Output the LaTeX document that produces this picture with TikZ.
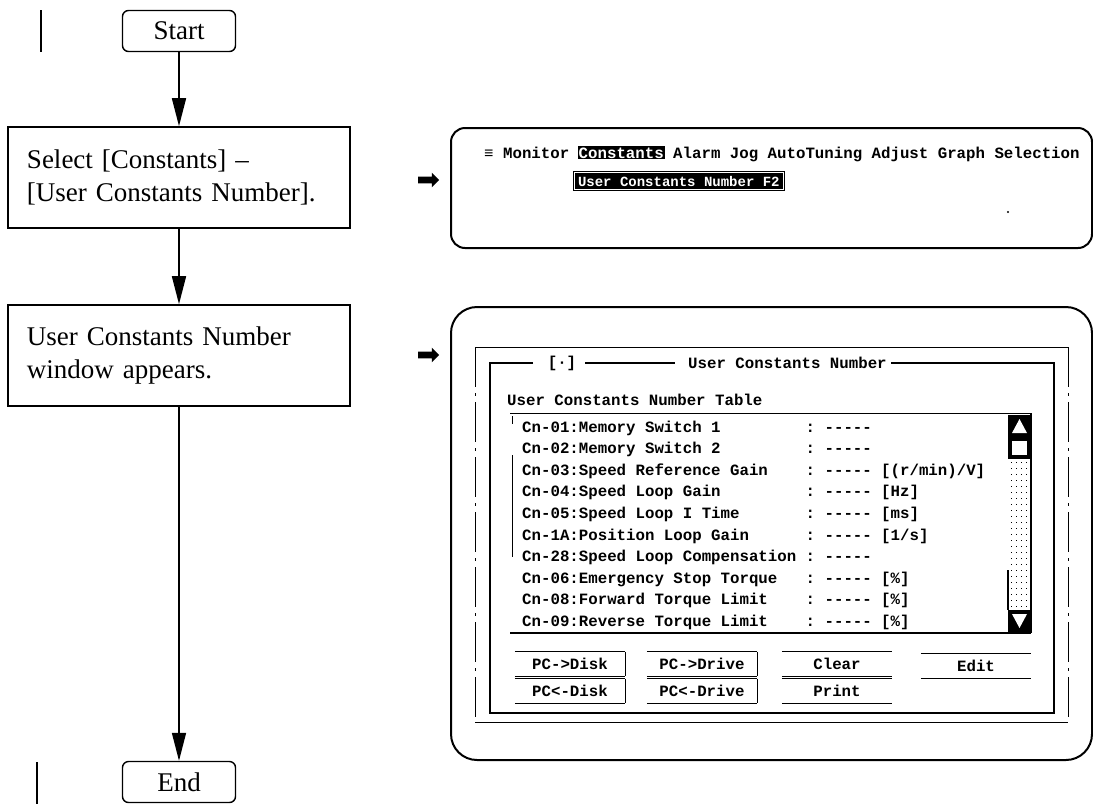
\documentclass[tikz,border=0pt]{standalone}
\usepackage{fontspec}
\setmainfont{Liberation Serif}
\setmonofont{Liberation Mono}
\usetikzlibrary{arrows.meta,shapes.arrows}

\newcommand\hilite[1]{{\setlength\fboxsep{1pt}\kern-1pt\colorbox{black}{\textcolor{white}{#1}}\kern-1pt}}

\begin{document}
\begin{tikzpicture}[x=1pt, y=-1pt,
    font=\fontsize{27}{33}\selectfont,
    term/.style={draw, line width=1.4pt, rounded corners=6pt,
                 minimum width=113pt, minimum height=41pt, inner sep=0pt},
    stepbox/.style={draw, line width=1.6pt, minimum width=342pt,
                 minimum height=101pt, inner sep=0pt, text width=304pt, align=left},
    flow/.style={line width=1.6pt, -{Triangle[length=28pt,width=14pt]}},
    pointer/.style={single arrow, fill=black, minimum height=21pt, inner xsep=0pt,
                 inner ysep=3.2pt, single arrow head extend=4pt},
    screen/.style={line width=2pt},
    mono/.style={font=\fontsize{15.75}{18}\selectfont\ttfamily\bfseries, inner sep=0pt},
    row/.style={mono, anchor=base west},
    btn/.style={mono, minimum width=110pt, minimum height=24pt},
    rule/.style={line width=1pt},
    sidedash/.style={rule, dash pattern=on 40pt off 6pt on 3pt off 6pt},
]
\useasboundingbox (0,0) rectangle (1093,804);

% ---- flow chart ----
\draw[line width=1.2pt] (41,10) -- (41,52);
\draw[line width=1.2pt] (37,762) -- (37,804);
\node[term] (start) at (179,31) {Start};
\node[stepbox] (select) at (179,177.5) {Select [Constants] --\\{}[User Constants Number].};
\node[stepbox] (window) at (179,355.5) {User Constants Number\\window appears.};
\node[term] (end) at (179,782) {End};
\draw[flow] (start) -- (select);
\draw[flow] (select) -- (window);
\draw[flow] (window) -- (end);

\node[pointer] (ptrA) at (427,180) {};
\node[pointer] (ptrB) at (427,355) {};

% ---- screen 1: menu bar ----
\draw[screen, rounded corners=14pt] (451,128) rectangle (1092,248);
\node[row] (menu) at (484,158)
    {≡ Monitor \hilite{Constants} Alarm Jog AutoTuning Adjust Graph Selection};
\node[draw, line width=1pt, inner sep=1.5pt, anchor=west] (popup) at (573,181)
    {\fontsize{14}{16}\selectfont\ttfamily\bfseries\setlength\fboxsep{3pt}%
     \colorbox{black}{\textcolor{white}{User Constants Number F2}}};
\fill (1008,212) circle (1.2pt);

% ---- screen 2: user constants window ----
\draw[screen, rounded corners=26pt] (451,307) rectangle (1092,760);
\draw[rule] (475,347) -- (1068,347);
\draw[rule] (475,722) -- (1068,722);
\draw[sidedash] (475,347) -- (475,722);
\draw[sidedash] (1068,347) -- (1068,722);

\draw[line width=2pt] (533,363) -| (490,713) -| (1054,363) -- (891,363);
\draw[line width=2pt] (585,363) -- (675,363);
\node[mono] (dlgicon) at (562,363) {[·]};
\node[mono, anchor=west] (dlgtitle) at (688,363) {User Constants Number};
\node[row] (tbltitle) at (507,405) {User Constants Number Table};

% table
\draw[rule] (510,413) -- (1031,413);
\draw[line width=1.8pt] (510,633) -- (1031,633);
\draw[rule] (512,416) -- (512,424);
\draw[rule] (512,455) -- (512,557);
\foreach \lbl/\unit [count=\i from 0] in {
    {Cn-01:Memory Switch 1}/{},
    {Cn-02:Memory Switch 2}/{},
    {Cn-03:Speed Reference Gain}/{[(r/min)/V]},
    {Cn-04:Speed Loop Gain}/{[Hz]},
    {Cn-05:Speed Loop I Time}/{[ms]},
    {Cn-1A:Position Loop Gain}/{[1/s]},
    {Cn-28:Speed Loop Compensation}/{},
    {Cn-06:Emergency Stop Torque}/{[\%]},
    {Cn-08:Forward Torque Limit}/{[\%]},
    {Cn-09:Reverse Torque Limit}/{[\%]}} {
    \node[row] (lbl\i) at (522,{432+21.6*\i}) {\lbl};
    \node[row] (val\i) at (805.5,{432+21.6*\i}) {: -----};
    \node[row] (unit\i) at (881,{432+21.6*\i}) {\unit};
}

% scroll bar
\fill (1008,415) rectangle (1031,437);
\fill[white] (1012,433) -- (1027,433) -- (1019.5,419) -- cycle;
\fill (1008,437) rectangle (1031,459);
\fill[white] (1012,441) rectangle (1027,455);
\foreach \r in {0,...,24} {
    \foreach \c in {0,...,3} { \fill ({1011+5*\c},{462+6*\r}) rectangle +(1.3,1.3); }
}
\draw[line width=1.5pt] (1031,413) -- (1031,633);
\draw[line width=1.5pt] (1008,570) -- (1008,610);
\fill (1008,610) rectangle (1031,632);
\fill[white] (1012,614) -- (1027,614) -- (1019.5,628) -- cycle;

% buttons
\foreach \nm/\cx/\cy/\txt/\side in {pcdisk/570/664/PC->Disk/1, pcdrive/702/664/PC->Drive/1,
        clear/837/664/Clear/0, edit/976/666/Edit/0, pcudisk/570/691/PC<-Disk/1,
        pcudrive/702/691/PC<-Drive/1, print/837/691/Print/0} {
    \node[btn] (\nm) at (\cx,\cy) {\txt};
    \draw[rule] (\nm.north west) -- (\nm.north east) (\nm.south west) -- (\nm.south east);
    \ifnum\side=1 \draw[rule] (\nm.north east) -- (\nm.south east); \fi
}
\end{tikzpicture}
\end{document}
